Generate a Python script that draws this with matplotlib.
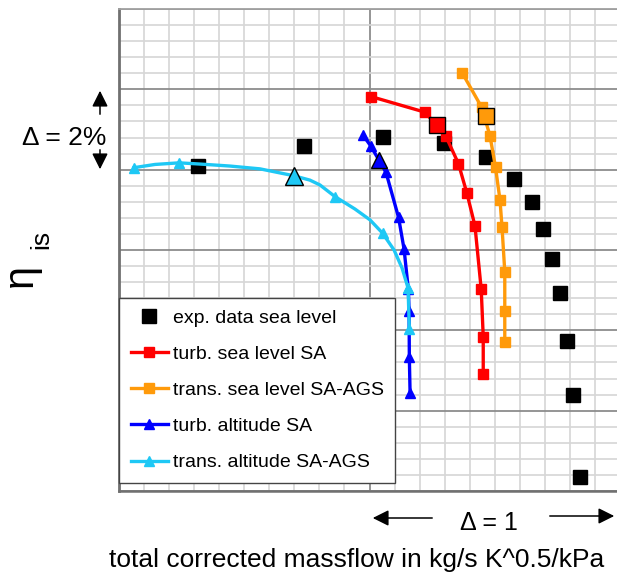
import numpy as np
import matplotlib
matplotlib.use("Agg")
import matplotlib.pyplot as plt

plt.rcParams['font.family'] = ['Liberation Sans', 'DejaVu Sans']

# ---------------- data (relative massflow units, efficiency in %) ----------------
exp_x = [0.315, 0.739, 1.054, 1.297, 1.465, 1.577, 1.649, 1.693, 1.729, 1.760, 1.788, 1.812, 1.840]
exp_y = [8.09, 8.59, 8.81, 8.66, 8.31, 7.77, 7.19, 6.52, 5.78, 4.93, 3.73, 2.39, 0.35]

turb_sea_x = [1.006, 1.222, 1.305, 1.355, 1.389, 1.421, 1.446, 1.454, 1.454]
turb_sea_y = [9.82, 9.43, 8.83, 8.15, 7.41, 6.60, 5.02, 3.84, 2.91]
turb_sea_dp = (1.271, 9.12)

trans_sea_x = [1.370, 1.448, 1.481, 1.503, 1.521, 1.529, 1.540, 1.540, 1.540]
trans_sea_y = [10.41, 9.55, 8.84, 8.06, 7.24, 6.57, 5.46, 4.49, 3.72]
trans_sea_dp = (1.465, 9.34)

turb_alt_x = [0.974, 1.006, 1.066, 1.116, 1.138, 1.155, 1.158, 1.159, 1.162]
turb_alt_y = [8.86, 8.58, 7.93, 6.81, 6.02, 5.02, 4.49, 3.33, 2.43]
turb_alt_dp = (1.039, 8.25)

trans_alt_x = [0.060, 0.144, 0.240, 0.323, 0.443, 0.563, 0.697, 0.762, 0.802,
               0.862, 0.942, 1.002, 1.052, 1.098, 1.130, 1.154, 1.159]
trans_alt_y = [8.05, 8.13, 8.17, 8.14, 8.09, 8.02, 7.85, 7.74, 7.62,
               7.33, 7.02, 6.75, 6.42, 6.00, 5.55, 5.05, 4.03]
trans_alt_marks = [0, 2, 6, 9, 12, 15, 16]
trans_alt_dp = (0.697, 7.84)

labels = ["exp. data sea level", "turb. sea level SA", "trans. sea level SA-AGS",
          "turb. altitude SA", "trans. altitude SA-AGS"]
colors = ["black", "#ff0000", "#ff9a0a", "#0000ff", "#1ec8f5"]

xlabel = "total corrected massflow in kg/s K^0.5/kPa"

# ---------------- figure ----------------
W, H = 617, 575
fig = plt.figure(figsize=(W / 100, H / 100), dpi=100)
fig.patch.set_facecolor("white")
ax = fig.add_axes([119 / W, 84 / H, 498 / W, 482 / H])
ax.set_xlim(0, 1.988)
ax.set_ylim(0, 12.0)

ax.set_xticks([0, 1])
ax.set_xticks(np.arange(0, 1.99, 0.1), minor=True)
ax.set_yticks(np.arange(0, 12.01, 2))
ax.set_yticks(np.arange(0, 12.01, 0.4), minor=True)
ax.tick_params(which="both", length=0, labelleft=False, labelbottom=False)
ax.grid(which="minor", color="#d6d6d6", lw=1.2)
ax.grid(which="major", color="#8c8c8c", lw=1.3)
ax.set_axisbelow(True)
ax.spines["right"].set_visible(False)
ax.spines["left"].set_color("#707070")
ax.spines["left"].set_linewidth(2.0)
ax.spines["bottom"].set_color("#707070")
ax.spines["bottom"].set_linewidth(1.8)
ax.spines["top"].set_color("#a0a0a0")
ax.spines["top"].set_linewidth(1.3)

lw = 2.4
h_exp, = ax.plot(exp_x, exp_y, ls="none", marker="s", ms=9.6, color=colors[0],
                 label=labels[0], zorder=3)
h_ts, = ax.plot(turb_sea_x, turb_sea_y, "-s", color=colors[1], lw=lw, ms=7.2,
                label=labels[1], zorder=4)
h_tr, = ax.plot(trans_sea_x, trans_sea_y, "-s", color=colors[2], lw=lw, ms=7.2,
                label=labels[2], zorder=4)
h_ta, = ax.plot(turb_alt_x, turb_alt_y, "-^", color=colors[3], lw=lw, ms=6.5,
                label=labels[3], zorder=4)
h_tra, = ax.plot(trans_alt_x, trans_alt_y, "-^", color=colors[4], lw=lw, ms=6.5,
                 markevery=trans_alt_marks, label=labels[4], zorder=4)

# design points
ax.plot(*turb_sea_dp, marker="s", ms=11, mfc=colors[1], mec="black", mew=1.0, zorder=5)
ax.plot(*trans_sea_dp, marker="s", ms=11.3, mfc=colors[2], mec="black", mew=1.0, zorder=5)
ax.plot(*turb_alt_dp, marker="^", ms=12, mfc=colors[3], mec="black", mew=1.0, zorder=5)
ax.plot(*trans_alt_dp, marker="^", ms=12.7, mfc=colors[4], mec="black", mew=1.0, zorder=5)

leg = ax.legend(handles=[h_exp, h_ts, h_tr, h_ta, h_tra], loc="lower left",
                bbox_to_anchor=(0, 8 / 482), borderaxespad=0, fontsize=14,
                handlelength=1.9, handletextpad=0.26, borderpad=0.6,
                labelspacing=0.95, fancybox=False, edgecolor="#444444",
                framealpha=1, numpoints=1)
leg.get_frame().set_linewidth(1.0)
leg.set_zorder(6)

# axis label
fig.text(356.5 / W, (H - 567) / H, xlabel, fontsize=19, ha="center", va="baseline")

# Delta = 1 annotation
fig.text(488.5 / W, (H - 530) / H, "Δ = 1", fontsize=18, ha="center", va="baseline")
arrow = dict(arrowstyle="-|>", color="black", lw=1.1, mutation_scale=24)
ax.annotate("", xy=(370 / W, (H - 518) / H), xytext=(435 / W, (H - 518) / H),
            xycoords="figure fraction", textcoords="figure fraction", arrowprops=arrow,
            annotation_clip=False)
ax.annotate("", xy=(617 / W, (H - 516) / H), xytext=(547 / W, (H - 516) / H),
            xycoords="figure fraction", textcoords="figure fraction", arrowprops=arrow,
            annotation_clip=False)

# Delta = 2% annotation
fig.text(64.5 / W, (H - 145) / H, "Δ = 2%", fontsize=19, ha="center", va="baseline")
ax.annotate("", xy=(100 / W, (H - 88) / H), xytext=(100 / W, (H - 117) / H),
            xycoords="figure fraction", textcoords="figure fraction", arrowprops=arrow,
            annotation_clip=False)
ax.annotate("", xy=(100 / W, (H - 172) / H), xytext=(100 / W, (H - 147) / H),
            xycoords="figure fraction", textcoords="figure fraction", arrowprops=arrow,
            annotation_clip=False)

# eta_is label
fig.text(21 / W, (H - 275) / H, "η", fontsize=30, rotation=90, ha="center", va="center")
fig.text(41 / W, (H - 239) / H, "is", fontsize=19, rotation=90, ha="center", va="center")

fig.savefig("out.png", dpi=100)
